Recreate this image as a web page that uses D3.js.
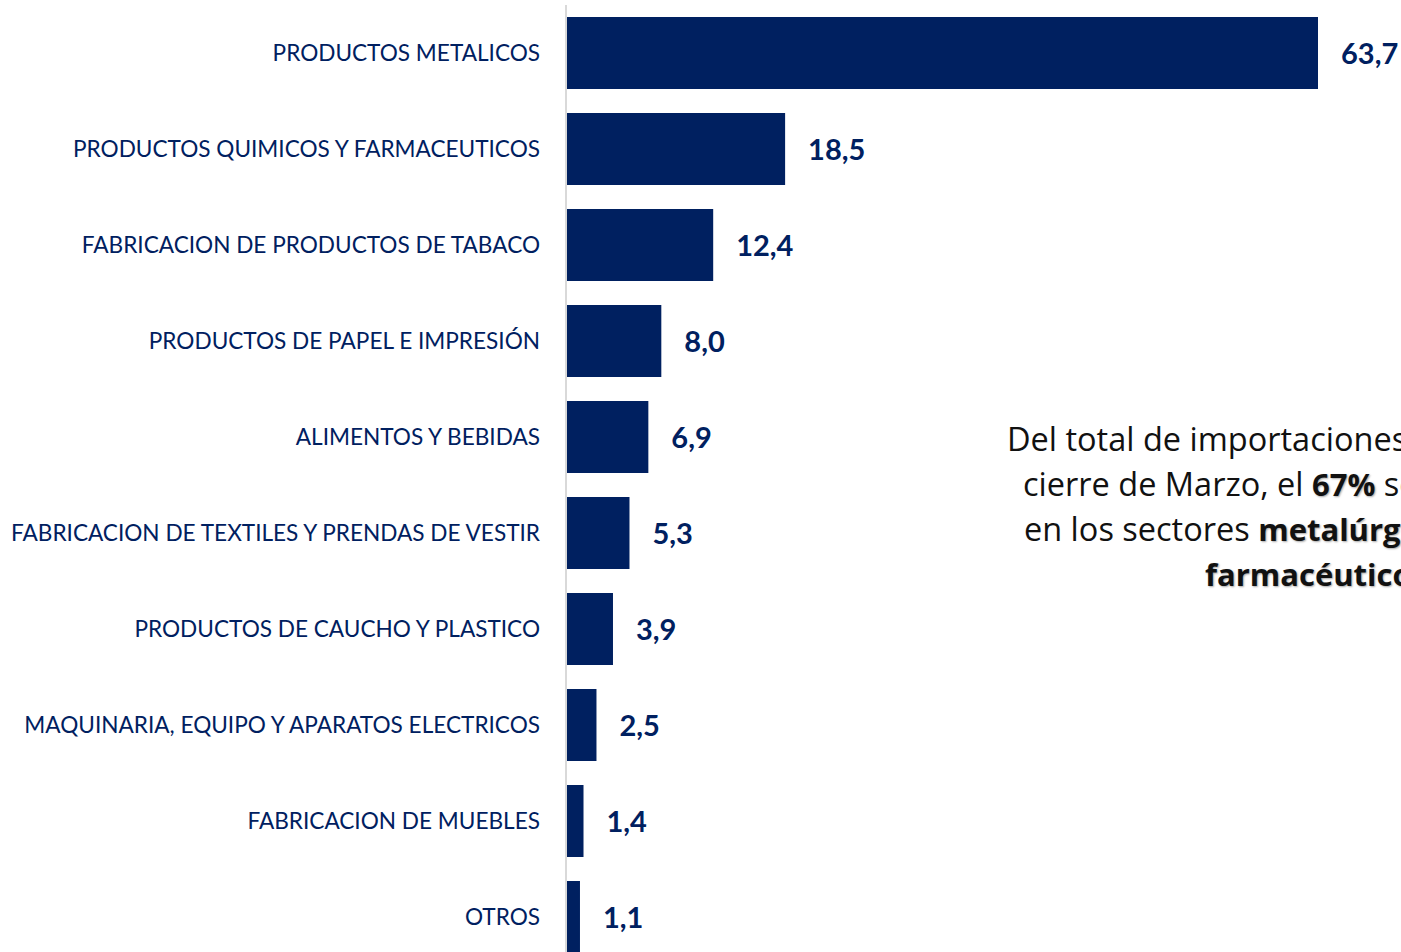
<!DOCTYPE html>
<html>
<head>
<meta charset="utf-8">
<script src="https://cdn.jsdelivr.net/npm/d3@7"></script>
<style>
  body { margin: 0; background: #fff; overflow: hidden; }
  svg { display: block; }
</style>
</head>
<body>
<div id="main"></div>
<script>
// data
const sectors = [
  "PRODUCTOS METALICOS",
  "PRODUCTOS QUIMICOS Y FARMACEUTICOS",
  "FABRICACION DE PRODUCTOS DE TABACO",
  "PRODUCTOS DE PAPEL E IMPRESIÓN",
  "ALIMENTOS Y BEBIDAS",
  "FABRICACION DE TEXTILES Y PRENDAS DE VESTIR",
  "PRODUCTOS DE CAUCHO Y PLASTICO",
  "MAQUINARIA, EQUIPO Y APARATOS ELECTRICOS",
  "FABRICACION DE MUEBLES",
  "OTROS"
];
const shares = [63.7, 18.5, 12.4, 8.0, 6.9, 5.3, 3.9, 2.5, 1.4, 1.1];

// annotation lines, each one a list of [text, bold]
const noteLines = [
  [["Del total de importaciones al", false]],
  [["cierre de Marzo, el ", false], ["67%", true], [" se concentra", false]],
  [["en los sectores ", false], ["metalúrgico", true], [" y", false]],
  [["farmacéutico", true]]
];

const width = 1401;
const height = 952;
const axisX = 566;
const navy = "#002060";

const svg = d3.select("#main")
  .append("svg")
  .attr("width", width)
  .attr("height", height);

const yScale = d3.scaleBand()
  .domain(sectors)
  .range([5, 965])
  .paddingInner(0.25)
  .paddingOuter(0.125);

const xScale = d3.scaleLinear()
  .domain([0, 63.7])
  .range([axisX + 1, 1318]);

const fmt = v => d3.format(".1f")(v).replace(".", ",");

// bars
svg.selectAll("rect.bar")
  .data(shares)
  .enter().append("rect")
  .attr("class", "bar")
  .attr("x", xScale(0))
  .attr("y", (d, i) => yScale(sectors[i]))
  .attr("width", d => xScale(d) - xScale(0))
  .attr("height", yScale.bandwidth())
  .attr("fill", navy);

// category axis
const yAxis = d3.axisLeft(yScale).tickSize(0).tickPadding(26);
const gy = svg.append("g")
  .attr("transform", "translate(" + axisX + ",0)")
  .call(yAxis);
gy.select(".domain").attr("stroke", "#d9d9d9").attr("stroke-width", 2)
  .attr("d", "M0," + 5 + "V" + height);
gy.selectAll(".tick text")
  .attr("fill", navy)
  .attr("font-family", "Lato, 'Open Sans', sans-serif")
  .attr("font-size", 22.6)
  .attr("dy", "0.35em");

// value labels
svg.selectAll("text.value")
  .data(shares)
  .enter().append("text")
  .attr("class", "value")
  .attr("x", d => xScale(d) + 23)
  .attr("y", (d, i) => yScale(sectors[i]) + yScale.bandwidth() / 2 + 1)
  .attr("dy", "0.35em")
  .attr("fill", navy)
  .attr("font-family", "Lato, 'Open Sans', sans-serif")
  .attr("font-weight", "bold")
  .attr("font-size", 29)
  .text(fmt);

// annotation (the text box runs past the right edge)
const noteX = [1007, 1023, 1024, 1205];
const note = svg.append("g")
  .attr("font-family", "'Open Sans', sans-serif")
  .attr("fill", "#111");
noteLines.forEach((parts, i) => {
  const t = note.append("text")
    .attr("x", noteX[i])
    .attr("y", 451 + i * 45);
  parts.forEach(p => {
    t.append("tspan")
      .attr("font-weight", p[1] ? "bold" : "normal")
      .attr("font-size", p[1] ? 31 : 32.5)
      .style("text-shadow", p[1] ? "1px 1px 2px rgba(0,0,0,0.35)" : null)
      .text(p[0]);
  });
});
</script>
</body>
</html>
